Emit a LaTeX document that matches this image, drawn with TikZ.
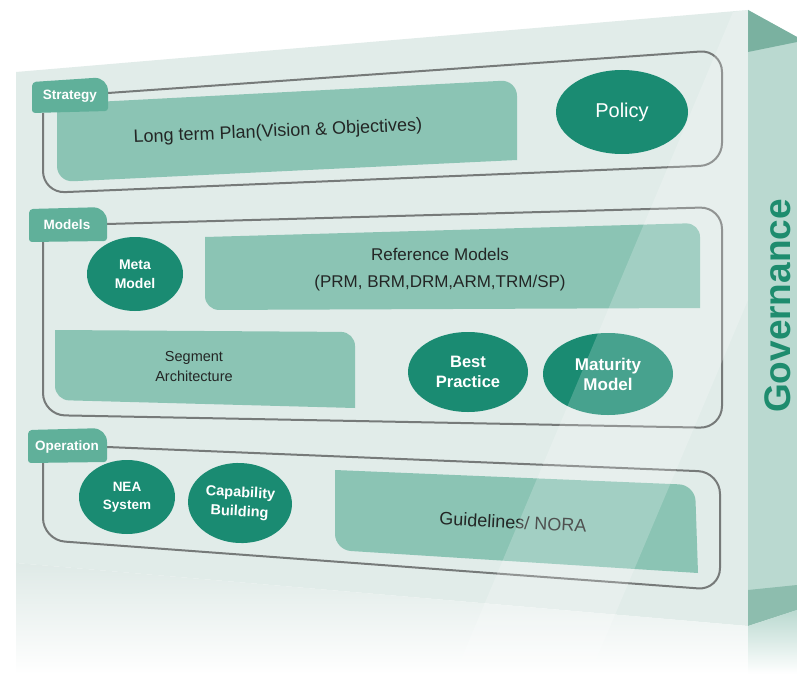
\documentclass[tikz,border=0pt]{standalone}
\usepackage{fontspec}
\setmainfont{Liberation Sans}
\usetikzlibrary{shapes.geometric}
\definecolor{facebg}{RGB}{225,236,233}
\definecolor{sidebg}{RGB}{186,217,208}
\definecolor{sidedark}{RGB}{122,177,160}
\definecolor{tabgreen}{RGB}{96,176,154}
\definecolor{boxgreen}{RGB}{139,196,180}
\definecolor{ovalgreen}{RGB}{26,139,114}
\definecolor{framegray}{RGB}{118,122,121}
\definecolor{textgray}{RGB}{35,38,37}
\definecolor{govgreen}{RGB}{30,140,110}
\begin{document}
\begin{tikzpicture}[x=1pt,y=-1pt,
  frame/.style={draw=framegray,line width=2pt,rounded corners=22pt},
  tabbox/.style={fill=tabgreen},
  lightbox/.style={fill=boxgreen},
  oval/.style={ellipse,fill=ovalgreen,text=white,inner sep=0pt,align=center,
    font=\bfseries\fontsize{15}{19}\selectfont},
  tablabel/.style={text=white,font=\bfseries\fontsize{13.5}{16}\selectfont},
  boxtext/.style={text=textgray,align=center}]
\useasboundingbox (0,0) rectangle (797,674);
\fill[white] (0,0) rectangle (797,674);
% box faces
\fill[facebg] (16,72) -- (748,10) -- (748,626) -- (16,563) -- cycle;
\fill[sidebg] (748,10) -- (797,37) -- (797,610) -- (748,626) -- cycle;
\fill[sidedark] (748,10) -- (797,37) -- (797,42) -- (748,52) -- cycle;
\fill[sidedark!70!sidebg] (748,590) -- (797,585) -- (797,610) -- (748,626) -- cycle;
\shade[top color=facebg!90!black!10!facebg,bottom color=white] (16,563) -- (748,626) -- (748,674) -- (16,674) -- cycle;
\shade[top color=sidebg,bottom color=white] (748,626) -- (797,610) -- (797,674) -- (748,674) -- cycle;
% Strategy
\fill[lightbox] (57,104) [rounded corners=16pt] -- (517,80) [sharp corners] -- (517,160) [rounded corners=16pt] -- (57,182) [sharp corners] -- cycle;
\draw[frame] (108,93) -- (722,50) -- (722,165) -- (43,193) -- (43,113);
\fill[tabbox] (32,113) [rounded corners=4pt] -- (32,82) [rounded corners=14pt] -- (108,77) [rounded corners=3pt] -- (108,111) -- cycle;
\node[tablabel] (strategy) at (70,96) {Strategy};
\node[boxtext,rotate=2.5,font=\fontsize{18}{21}\selectfont] (plan) at (278,132) {Long term Plan(Vision \& Objectives)};
\node[oval,minimum width=132pt,minimum height=84pt,font=\fontsize{20}{24}\selectfont] (policy) at (622,112) {Policy};
% Models
\fill[lightbox] (205,237) [rounded corners=14pt] -- (700,223) [sharp corners] -- (700,308) [rounded corners=14pt] -- (205,310) [sharp corners] -- cycle;
\fill[lightbox] (55,330) [rounded corners=14pt] -- (355,332) [sharp corners] -- (355,408) [rounded corners=14pt] -- (55,400) [sharp corners] -- cycle;
\draw[frame] (107,224) -- (722,207) -- (722,428) -- (43,415) -- (43,242);
\fill[tabbox] (29,242) [rounded corners=4pt] -- (29,209) [rounded corners=14pt] -- (107,207) [rounded corners=3pt] -- (107,241) -- cycle;
\node[tablabel] (models) at (67,225) {Models};
\node[oval,minimum width=96pt,minimum height=74pt,font=\bfseries\fontsize{14}{19}\selectfont] (meta) at (135,274) {Meta\\Model};
\node[boxtext,font=\fontsize{17}{27}\selectfont] (refmodels) at (440,270) {Reference Models\\(PRM, BRM,DRM,ARM,TRM/SP)};
\node[boxtext,font=\fontsize{14.5}{20}\selectfont] (segment) at (194,367) {Segment\\Architecture};
\node[oval,minimum width=120pt,minimum height=80pt,font=\bfseries\fontsize{16.5}{20}\selectfont] (best) at (468,372) {Best\\Practice};
\node[oval,minimum width=130pt,minimum height=82pt,font=\bfseries\fontsize{17}{20}\selectfont] (maturity) at (608,374) {Maturity\\Model};
% Operation
\fill[lightbox] (335,470) [rounded corners=16pt] -- (695,485) [sharp corners] -- (698,573) [rounded corners=16pt] -- (335,550) [sharp corners] -- cycle;
\draw[frame] (107,447) -- (720,472) -- (720,590) -- (43,540) -- (43,463);
\fill[tabbox] (28,463) [rounded corners=4pt] -- (28,430) [rounded corners=14pt] -- (107,428) [rounded corners=3pt] -- (107,462) -- cycle;
\node[tablabel] (operation) at (67,447) {Operation};
\node[oval,minimum width=96pt,minimum height=74pt,font=\bfseries\fontsize{13.5}{18}\selectfont] (nea) at (127,497) {NEA\\System};
\node[oval,minimum width=104pt,minimum height=80pt,rotate=-3,font=\bfseries\fontsize{14.5}{19}\selectfont] (capability) at (240,503) {Capability\\Building};
\node[boxtext,rotate=-3,font=\fontsize{18}{21}\selectfont] (guidelines) at (513,522) {Guidelines/ NORA};
% side label
\node[rotate=90,text=govgreen,font=\bfseries\fontsize{37}{40}\selectfont] (governance) at (778,306) {Governance};
% glare
\fill[white,opacity=0.2] (733,12) -- (748,10) -- (748,300) -- (590,674) -- (455,674) -- cycle;
\end{tikzpicture}
\end{document}
